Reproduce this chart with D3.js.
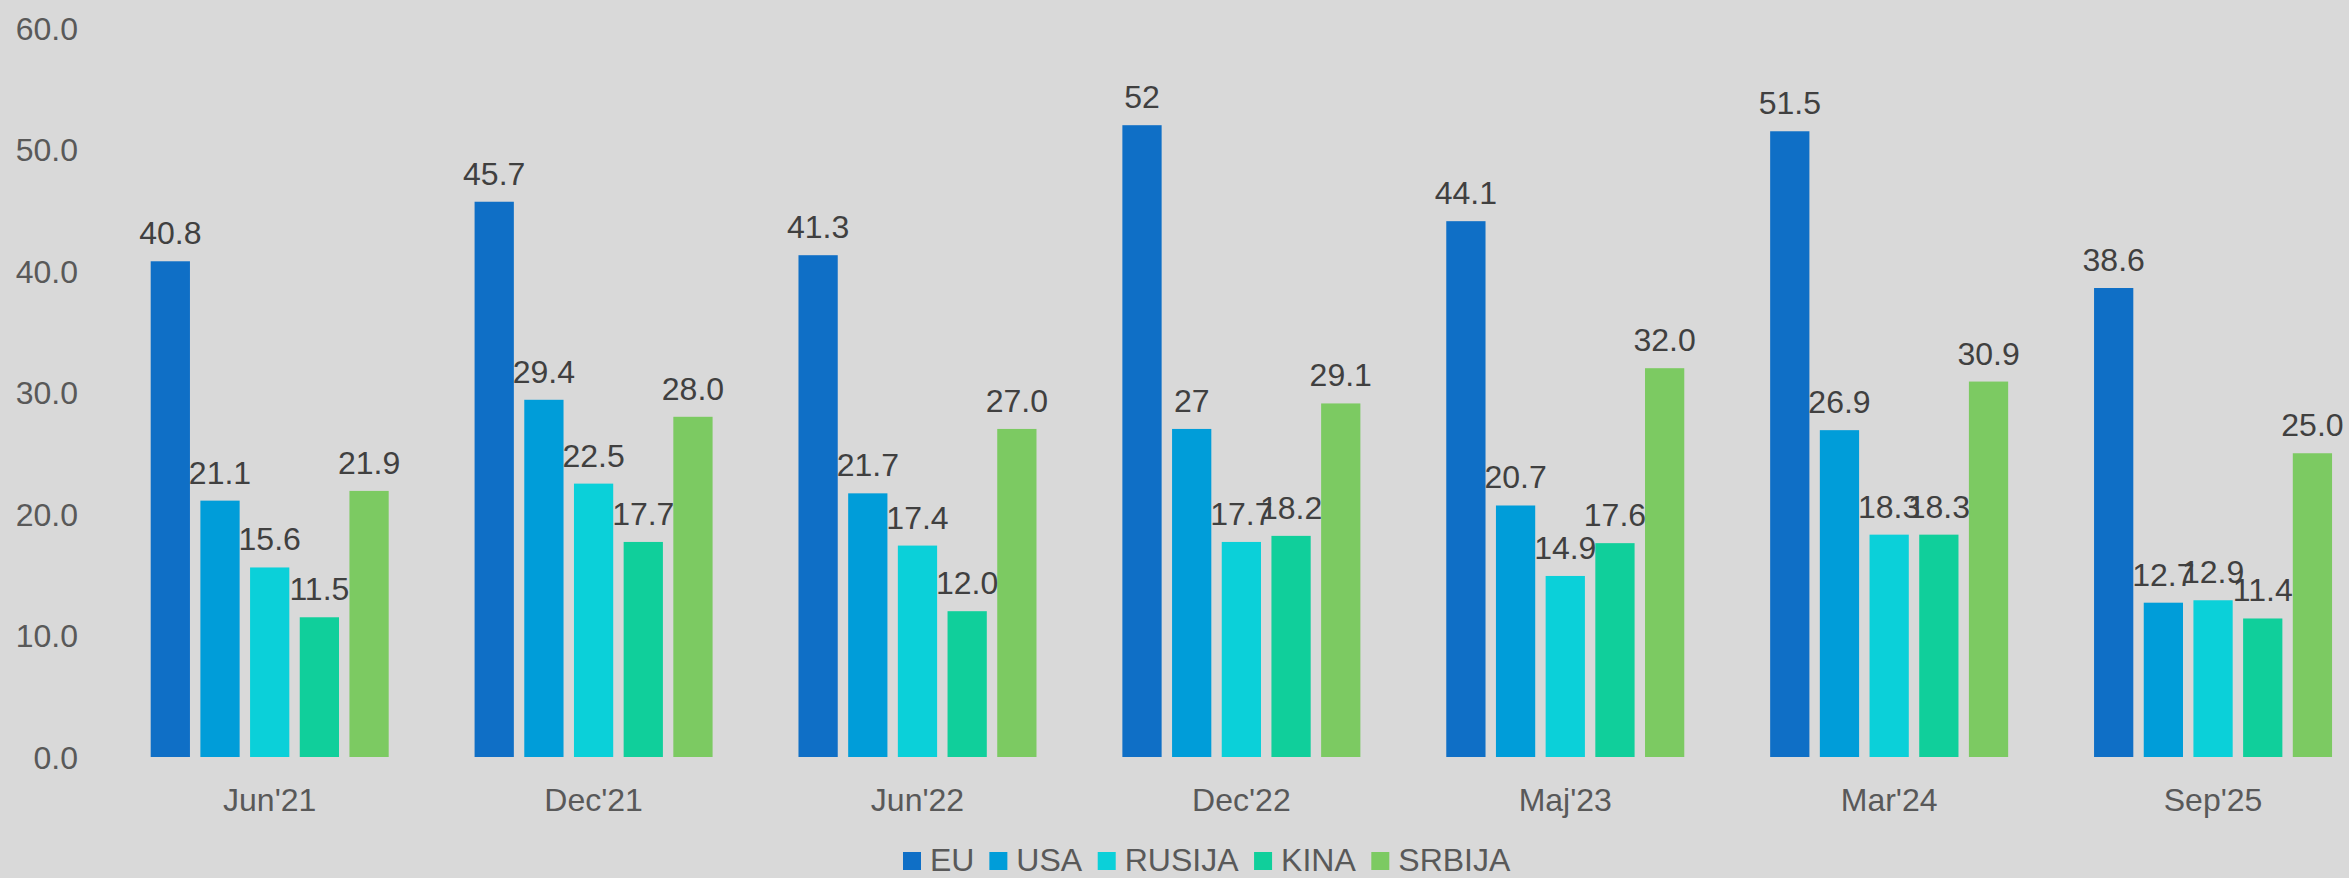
<!DOCTYPE html>
<html>
<head>
<meta charset="utf-8">
<script src="https://cdn.jsdelivr.net/npm/d3@7/dist/d3.min.js"></script>
<style>
  html, body { margin: 0; padding: 0; background: #D9D9D9; }
  svg { display: block; }
  text { font-family: "Liberation Sans", Arial, sans-serif; }
</style>
</head>
<body>
<svg id="chart" width="2349" height="878"></svg>
<script>
// ---- data ----
const categories = ["Jun'21", "Dec'21", "Jun'22", "Dec'22", "Maj'23", "Mar'24", "Sep'25"];
const seriesNames = ["EU", "USA", "RUSIJA", "KINA", "SRBIJA"];
const seriesColors = ["#0F6FC6", "#009DD9", "#0BD0D9", "#10CF9B", "#7CCA62"];
const euValues     = [40.8, 45.7, 41.3, 52.0, 44.1, 51.5, 38.6];
const usaValues    = [21.1, 29.4, 21.7, 27.0, 20.7, 26.9, 12.7];
const rusijaValues = [15.6, 22.5, 17.4, 17.7, 14.9, 18.3, 12.9];
const kinaValues   = [11.5, 17.7, 12.0, 18.2, 17.6, 18.3, 11.4];
const srbijaValues = [21.9, 28.0, 27.0, 29.1, 32.0, 30.9, 25.0];
const euLabels     = ["40.8", "45.7", "41.3", "52", "44.1", "51.5", "38.6"];
const usaLabels    = ["21.1", "29.4", "21.7", "27", "20.7", "26.9", "12.7"];
const rusijaLabels = ["15.6", "22.5", "17.4", "17.7", "14.9", "18.3", "12.9"];
const kinaLabels   = ["11.5", "17.7", "12.0", "18.2", "17.6", "18.3", "11.4"];
const srbijaLabels = ["21.9", "28.0", "27.0", "29.1", "32.0", "30.9", "25.0"];
const yTicks = [0, 10, 20, 30, 40, 50, 60];

const seriesValues = [euValues, usaValues, rusijaValues, kinaValues, srbijaValues];
const seriesLabels = [euLabels, usaLabels, rusijaLabels, kinaLabels, srbijaLabels];

// ---- layout ----
const svg = d3.select("#chart");
const plotLeft = 107.75, plotRight = 2375, plotTop = 28, plotBottom = 757;
const groupWidth = 238;
const fontSize = 32;

const x0 = d3.scaleBand().domain(categories).range([plotLeft, plotRight]).padding(0);
const x1 = d3.scaleBand().domain(seriesNames).range([-groupWidth / 2, groupWidth / 2])
  .paddingInner(0.21).paddingOuter(0);
const y = d3.scaleLinear().domain([0, 60]).range([plotBottom, plotTop]);

// y axis labels
const yAxis = d3.axisLeft(y).tickValues(yTicks).tickFormat(d3.format(".1f")).tickSize(0).tickPadding(0);
const yg = svg.append("g").attr("transform", "translate(78,0)").call(yAxis);
yg.select(".domain").remove();
yg.selectAll("text").attr("font-size", fontSize).attr("fill", "#595959")
  .attr("font-family", "Liberation Sans, Arial, sans-serif").attr("dy", "0.35em");

// x axis labels
const xAxis = d3.axisBottom(x0).tickSize(0).tickPadding(0);
const xg = svg.append("g").attr("transform", `translate(0,${plotBottom})`).call(xAxis);
xg.select(".domain").remove();
xg.selectAll("text").attr("font-size", fontSize).attr("fill", "#595959")
  .attr("font-family", "Liberation Sans, Arial, sans-serif").attr("y", 0).attr("dy", 54);

// bars
const rows = [];
categories.forEach((c, ci) => {
  seriesNames.forEach((s, si) => {
    rows.push({ cat: c, ser: s, si: si, value: seriesValues[si][ci], label: seriesLabels[si][ci] });
  });
});

const g = svg.append("g");
g.selectAll("rect").data(rows).join("rect")
  .attr("x", d => x0(d.cat) + x0.bandwidth() / 2 + x1(d.ser))
  .attr("y", d => y(d.value))
  .attr("width", x1.bandwidth())
  .attr("height", d => y(0) - y(d.value))
  .attr("fill", d => seriesColors[d.si]);

g.selectAll("text.lbl").data(rows).join("text").attr("class", "lbl")
  .attr("x", d => x0(d.cat) + x0.bandwidth() / 2 + x1(d.ser) + x1.bandwidth() / 2)
  .attr("y", d => y(d.value) - 17)
  .attr("text-anchor", "middle")
  .attr("font-size", fontSize)
  .attr("fill", "#404040")
  .text(d => d.label);

// legend
const legend = svg.append("g");
const items = legend.selectAll("g").data(seriesNames).join("g");
items.append("rect").attr("width", 18).attr("height", 18).attr("y", 852)
  .attr("fill", (d, i) => seriesColors[i]);
items.append("text").attr("x", 27).attr("y", 870.5).attr("font-size", fontSize)
  .attr("fill", "#595959").text(d => d);
let widths = [];
items.each(function () { widths.push(this.getBBox().width); });
const legendSpan = 608;
const gap = Math.max(14, (legendSpan - d3.sum(widths)) / (widths.length - 1));
const total = d3.sum(widths) + gap * (widths.length - 1);
let cx = 1207 - total / 2;
items.attr("transform", (d, i) => { const t = `translate(${cx},0)`; cx += widths[i] + gap; return t; });
</script>
</body>
</html>
